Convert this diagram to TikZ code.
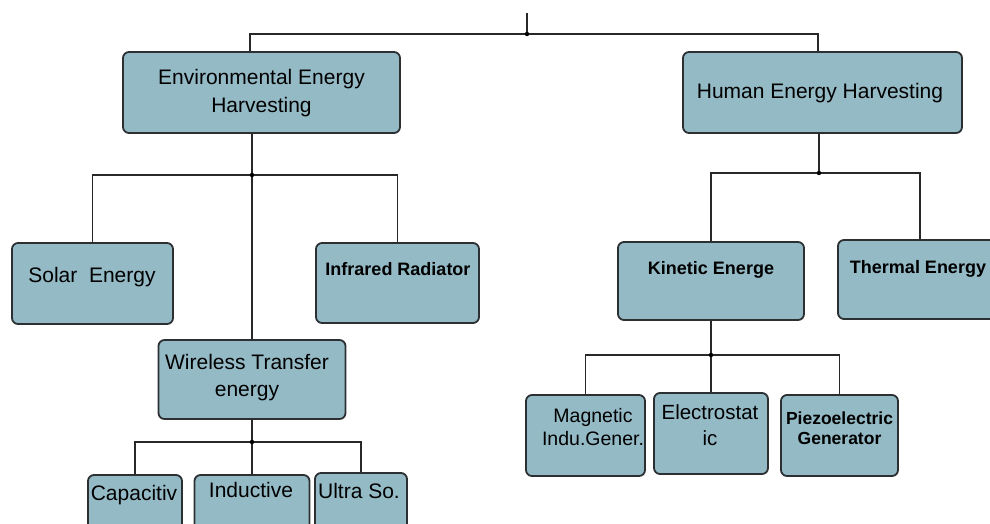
\documentclass[tikz,border=0pt]{standalone}
\usepackage{fontspec}
\setmainfont{Liberation Sans}
\definecolor{boxfill}{RGB}{148,186,198}
\definecolor{boxline}{RGB}{45,48,50}
\definecolor{connline}{RGB}{40,40,40}
\begin{document}
\begin{tikzpicture}[x=1pt,y=-1pt,
  box/.style={draw=boxline, line width=1.8pt, fill=boxfill, rounded corners=6pt, inner sep=0pt},
  conn/.style={draw=connline, line width=1.4pt},
  reg/.style={anchor=base, align=center, font=\fontsize{21}{28}\selectfont, text=black},
  bld/.style={anchor=base, align=center, font=\fontsize{18}{20}\selectfont\bfseries, text=black},
  dot/.style={fill=black}]
\useasboundingbox (0,0) rectangle (990,523);
\clip (0,0) rectangle (990,523);
% boxes
\node[box, minimum width=277pt, minimum height=81pt] (env) at (261.5,92.5) {};
\node[box, minimum width=279pt, minimum height=81pt] (hum) at (822.5,92.5) {};
\node[box, minimum width=161pt, minimum height=81pt] (solar) at (92.5,283.5) {};
\node[box, minimum width=163pt, minimum height=80pt] (infra) at (397.5,283) {};
\node[box, minimum width=187pt, minimum height=79pt] (wire) at (252,379.5) {};
\node[box, minimum width=94pt, minimum height=70pt] (cap) at (135,510) {};
\node[box, minimum width=115pt, minimum height=70pt] (ind) at (252,510) {};
\node[box, minimum width=92pt, minimum height=72pt] (ultra) at (361,509) {};
\node[box, minimum width=186pt, minimum height=78pt] (kin) at (711,281) {};
\node[box, minimum width=160pt, minimum height=79pt] (therm) at (918,279.5) {};
\node[box, minimum width=119pt, minimum height=81pt] (mag) at (585.5,435.5) {};
\node[box, minimum width=114pt, minimum height=81pt] (elec) at (711,433.5) {};
\node[box, minimum width=117pt, minimum height=81pt] (piezo) at (839.5,435.5) {};
% texts (base anchor = baseline of the last line)
\node[reg] (envT) at (261.5,112.5) {Environmental Energy\\Harvesting};
\node[reg] (humT) at (820,98) {Human Energy Harvesting};
\node[reg] (solarT) at (92,282.5) {Solar\ \ Energy};
\node[bld] (infraT) at (398,275.5) {Infrared Radiator};
\node[reg, font=\fontsize{21}{27}\selectfont] (wireT) at (247,396.5) {Wireless Transfer\\energy};
\node[reg] (capT) at (134,500.5) {Capacitiv};
\node[reg] (indT) at (251,497.5) {Inductive};
\node[reg] (ultraT) at (359,498.5) {Ultra So.};
\node[bld] (kinT) at (711,274.5) {Kinetic Energe};
\node[bld] (thermT) at (918,273.5) {Thermal Energy};
\node[reg, font=\fontsize{19.5}{23}\selectfont] (magT) at (593,445) {Magnetic\\Indu.Gener.};
\node[reg, font=\fontsize{20.5}{26}\selectfont] (elecT) at (710,445) {Electrostat\\ic};
\node[bld, font=\fontsize{17.5}{20}\selectfont\bfseries] (piezoT) at (839.5,444.5) {Piezoelectric\\Generator};
% connectors
\coordinate (top) at (527,13);
\coordinate (j0) at (527,34);
\coordinate (j1) at (252,175);
\coordinate (j2) at (252,442);
\coordinate (j3) at (819,173);
\coordinate (j4) at (711,355);
\draw[conn] (top) -- (j0);
\draw[conn] ([xshift=-11.5pt]env.north) |- (j0) -| ([xshift=-4.5pt]hum.north);
\draw[conn] ([xshift=-9.5pt]env.south) -- (wire.north);
\draw[conn] (solar.north) |- (j1) -| (infra.north);
\draw[conn] (wire.south) -- (ind.north);
\draw[conn] (cap.north) |- (j2) -| (ultra.north);
\draw[conn] ([xshift=-3.5pt]hum.south) -- (j3);
\draw[conn] (kin.north) |- (j3) -| ([xshift=2pt]therm.north);
\draw[conn] (kin.south) -- (elec.north);
\draw[conn] (mag.north) |- (j4) -| (piezo.north);
\foreach \j in {j0,j1,j2,j3,j4} \fill[dot] (\j) circle (2.2pt);
\end{tikzpicture}
\end{document}
